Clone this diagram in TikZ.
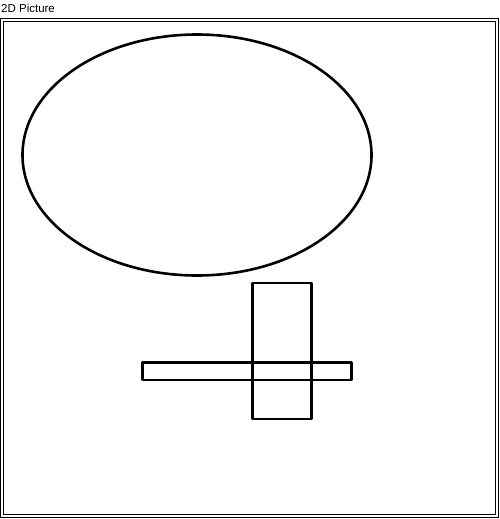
\documentclass[tikz,border=0pt]{standalone}
\usepackage{fontspec}
\setmainfont{Liberation Sans}
\begin{document}
\begin{tikzpicture}[x=1pt,y=-1pt,
  frame/.style={draw=black,line width=1.3pt},
  figline/.style={draw=black,line width=2.6pt,line join=round}]
\useasboundingbox[fill=white] (0,0) rectangle (500,519);
\node[anchor=base west,inner sep=0pt,font=\fontsize{11.5}{13}\selectfont] (title) at (1,13) {2D Picture};
\draw[frame] (0.8,18.6) rectangle (498.6,517.6);
\draw[frame] (3.6,21.4) rectangle (495.6,514.8);
\draw[figline] (197,155) ellipse [x radius=174.5, y radius=120.5];
\draw[figline] (252.3,282.8) rectangle (311.4,419);
\draw[figline] (142.6,362.4) rectangle (351.4,379.8);
\end{tikzpicture}
\end{document}
